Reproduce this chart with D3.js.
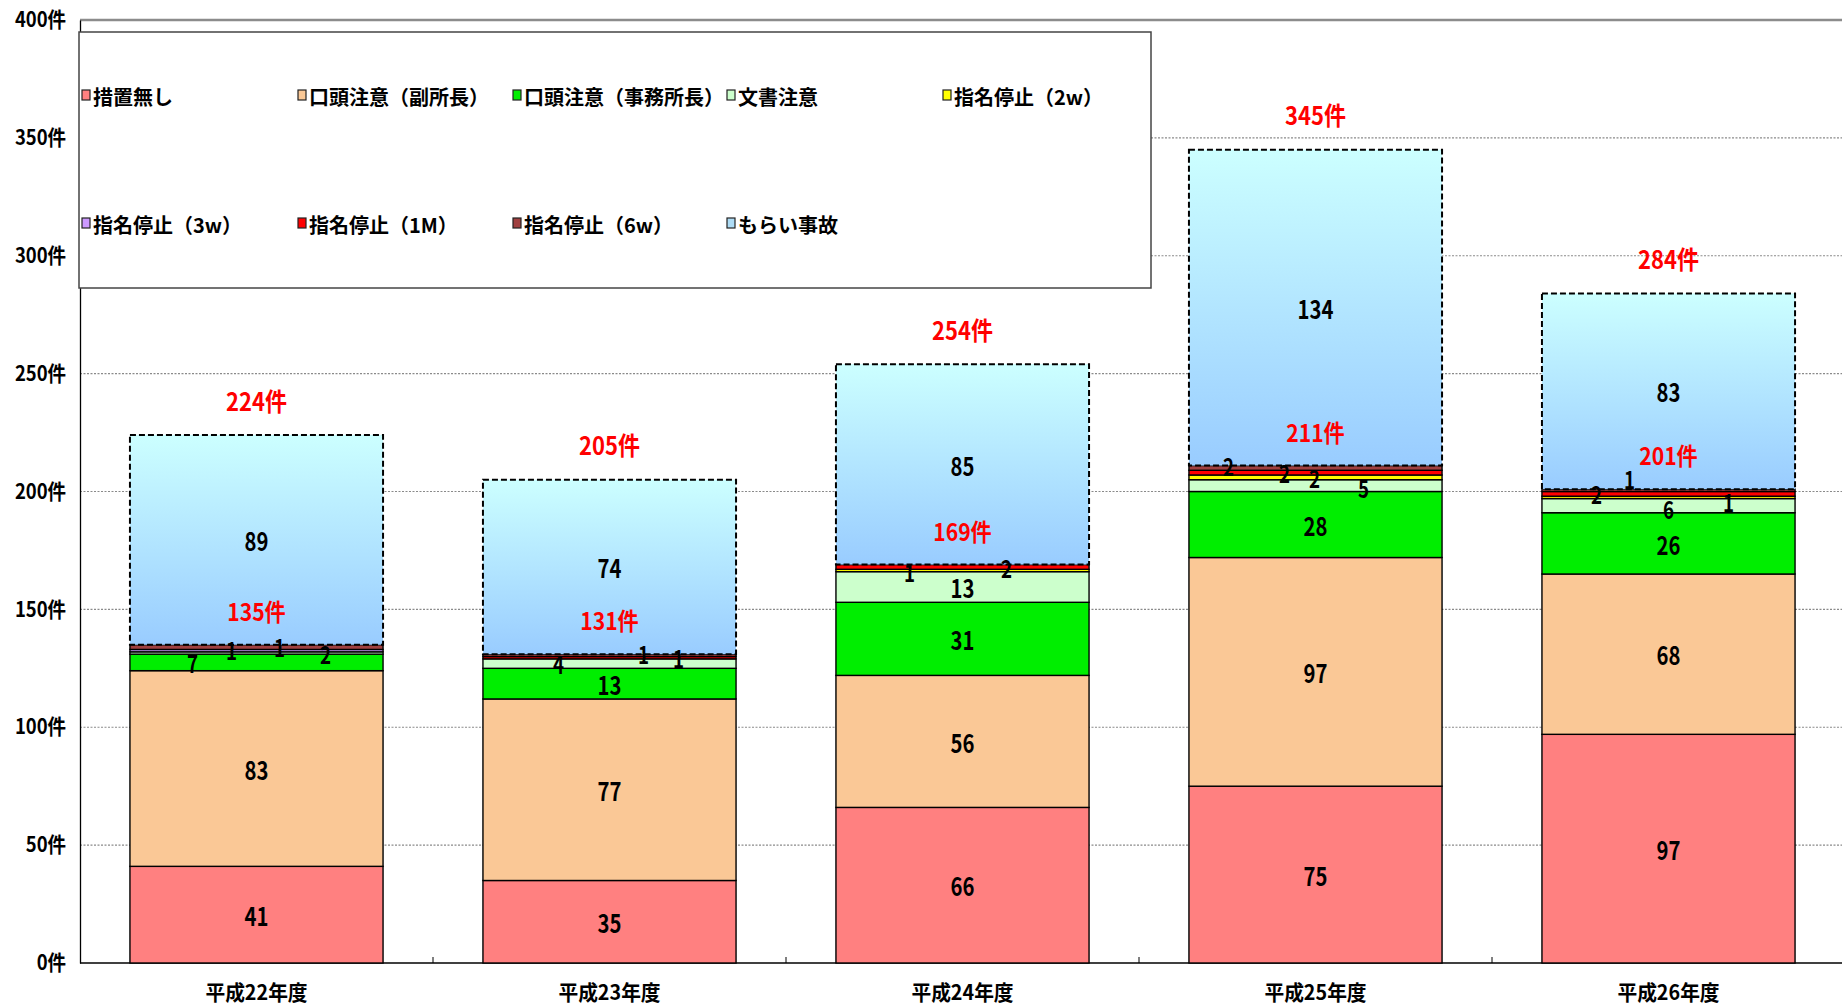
<!DOCTYPE html>
<html lang="ja">
<head>
<meta charset="utf-8">
<script src="https://cdn.jsdelivr.net/npm/d3@7"></script>
<style>
  html, body { margin: 0; padding: 0; background: #fff; }
  svg { display: block; }
  .narrow { transform-box: fill-box; transform-origin: center; }
</style>
</head>
<body>
<svg id="chart" width="1842" height="1008"></svg>
<script>
// Fiscal years on the x axis
const years = ['平成22年度', '平成23年度', '平成24年度', '平成25年度', '平成26年度'];

// Series names, in stacking order (bottom to top)
const seriesNames = [
  '措置無し', '口頭注意（副所長）', '口頭注意（事務所長）', '文書注意', '指名停止（2w）',
  '指名停止（3w）', '指名停止（1M）', '指名停止（6w）', 'もらい事故'
];

// Case counts per year for each series
const noAction    = [41, 35, 66, 75, 97];
const oralVice    = [83, 77, 56, 97, 68];
const oralChief   = [7, 13, 31, 28, 26];
const written     = [1, 4, 13, 5, 6];
const suspend2w   = [0, 0, 1, 2, 1];
const suspend3w   = [1, 0, 0, 0, 0];
const suspend1M   = [0, 1, 2, 2, 2];
const suspend6w   = [2, 1, 0, 2, 1];
const hitByOthers = [89, 74, 85, 134, 83];

// Y axis ticks
const yTicks = [0, 50, 100, 150, 200, 250, 300, 350, 400];
const yTickLabels = yTicks.map(v => v + '件');

const seriesValues = [noAction, oralVice, oralChief, written, suspend2w, suspend3w, suspend1M, suspend6w, hitByOthers];

// ---- styling ----
const colors = ['#FF8080', '#FAC896', '#00EE00', '#CCFFCC', '#FFFF00', '#CC99FF', '#FF0000', '#A04040', 'url(#gradHit)'];
const legendSwatch = ['#FF8080', '#FAC896', '#00EE00', '#CCFFCC', '#FFFF00', '#CC99FF', '#FF0000', '#A04040', '#AEDCF5'];
const FONT = '"Noto Sans CJK JP", sans-serif';

// Offsets (px) for labels on thin segments, keyed "year-series"
const labelShift = {
  '0-2': [-64, 0], '0-3': [-25, -4], '0-5': [23, -4], '0-7': [69, 6],
  '1-3': [-51, 0], '1-6': [34, -4], '1-7': [69, 2],
  '2-4': [-53, 1], '2-6': [44, 0],
  '3-3': [48, 2], '3-4': [-1, 0], '3-6': [-31, 0], '3-7': [-87, -3],
  '4-3': [0, 3], '4-4': [60, 4], '4-6': [-72, 0], '4-7': [-39, -12]
};

const svg = d3.select('#chart');
const margin = { left: 80, right: 1845, top: 20, bottom: 963 };

const x = d3.scaleBand().domain(years).range([margin.left, margin.right])
  .paddingInner(0.283).paddingOuter(0.1415);
const y = d3.scaleLinear().domain([0, 400]).range([margin.bottom, margin.top]);

// gradient for the もらい事故 segments
const defs = svg.append('defs');
const grad = defs.append('linearGradient').attr('id', 'gradHit')
  .attr('x1', 0).attr('y1', 0).attr('x2', 0).attr('y2', 1);
grad.append('stop').attr('offset', '0%').attr('stop-color', '#CCFFFF');
grad.append('stop').attr('offset', '100%').attr('stop-color', '#99CCFF');

// grid lines
svg.append('g').selectAll('line').data(yTicks.filter(v => v > 0 && v < 400)).join('line')
  .attr('x1', margin.left).attr('x2', 1842)
  .attr('y1', d => y(d)).attr('y2', d => y(d))
  .attr('stroke', '#8a8a8a').attr('stroke-width', 1.2).attr('stroke-dasharray', '2,1.5');
svg.append('line').attr('x1', margin.left).attr('x2', 1842)
  .attr('y1', y(400)).attr('y2', y(400))
  .attr('stroke', '#8c8c8c').attr('stroke-width', 2.5);

// y axis
const yAxis = d3.axisLeft(y).tickValues(yTicks).tickFormat((d, i) => yTickLabels[i]).tickSize(0).tickPadding(14);
const gy = svg.append('g').attr('transform', `translate(${margin.left},0)`).call(yAxis);
gy.select('.domain').attr('stroke', '#000').attr('stroke-width', 1.3);
gy.selectAll('text').attr('font-family', FONT).attr('font-weight', 'bold')
  .attr('font-size', 21).attr('fill', '#000')
  .attr('class', 'narrow')
  .style('transform-origin', 'right center').style('transform', 'scaleX(0.88)');

// x axis
const step = x.step();
const xAxis = d3.axisBottom(x).tickSize(0).tickPadding(22);
const gx = svg.append('g').attr('transform', `translate(0,${margin.bottom})`).call(xAxis);
gx.select('.domain').attr('stroke', '#000').attr('stroke-width', 1.3).attr('d', `M${margin.left},0H1842`);
gx.selectAll('text').attr('font-family', FONT).attr('font-weight', 'bold')
  .attr('font-size', 21).attr('fill', '#000')
  .attr('class', 'narrow').style('transform', 'scaleX(0.94)');
gx.selectAll('line.sep').data(years.slice(1)).join('line').attr('class', 'sep')
  .attr('x1', d => x(d) - (step - x.bandwidth()) / 2).attr('x2', d => x(d) - (step - x.bandwidth()) / 2)
  .attr('y1', 0).attr('y2', -6).attr('stroke', '#000').attr('stroke-width', 1);

// stacked bars
const rows = years.map((yr, i) => {
  const r = { year: yr };
  seriesNames.forEach((s, k) => { r[s] = seriesValues[k][i]; });
  return r;
});
const stacked = d3.stack().keys(seriesNames)(rows);

const barG = svg.append('g');
stacked.forEach((layer, k) => {
  const isHit = k === seriesNames.length - 1;
  barG.append('g').selectAll('rect').data(layer.filter(d => d[1] - d[0] > 0)).join('rect')
    .attr('x', d => x(d.data.year))
    .attr('width', x.bandwidth())
    .attr('y', d => y(d[1]))
    .attr('height', d => y(d[0]) - y(d[1]))
    .attr('fill', colors[k])
    .attr('stroke', '#000')
    .attr('stroke-width', isHit ? 2 : 1.4)
    .attr('stroke-dasharray', isHit ? '6,3' : null);
});

// value labels (thin segments get slightly smaller text)
const labelG = svg.append('g');
stacked.forEach((layer, k) => {
  layer.forEach((d, i) => {
    const v = d[1] - d[0];
    if (v <= 0) return;
    const shift = labelShift[i + '-' + k] || [0, 0];
    labelG.append('text')
      .attr('class', 'narrow').style('transform', 'scaleX(0.78)')
      .attr('x', x(d.data.year) + x.bandwidth() / 2 + shift[0])
      .attr('y', y((d[0] + d[1]) / 2) + shift[1])
      .attr('text-anchor', 'middle').attr('dominant-baseline', 'central')
      .attr('font-family', FONT).attr('font-weight', 'bold').attr('font-size', v < 10 ? 24 : 26)
      .attr('fill', '#000').text(v);
  });
});

// subtotal (excluding もらい事故) and overall totals in red
const hitLayer = stacked[stacked.length - 1];
hitLayer.forEach(d => {
  const cx = x(d.data.year) + x.bandwidth() / 2;
  labelG.append('text').attr('x', cx).attr('y', y(d[0]) - 34)
    .attr('class', 'narrow').style('transform', 'scaleX(0.88)')
    .attr('text-anchor', 'middle').attr('dominant-baseline', 'central')
    .attr('font-family', FONT).attr('font-weight', 'bold').attr('font-size', 24)
    .attr('fill', '#FF0000').text(d[0] + '件');
  labelG.append('text').attr('x', cx).attr('y', y(d[1]) - 35)
    .attr('class', 'narrow').style('transform', 'scaleX(0.88)')
    .attr('text-anchor', 'middle').attr('dominant-baseline', 'central')
    .attr('font-family', FONT).attr('font-weight', 'bold').attr('font-size', 25)
    .attr('fill', '#FF0000').text(d[1] + '件');
});

// legend
const legend = svg.append('g');
legend.append('rect').attr('x', 79).attr('y', 32).attr('width', 1072).attr('height', 256)
  .attr('fill', '#fff').attr('stroke', '#444').attr('stroke-width', 1.5);
const colX = [86, 302, 517, 731, 947];
const rowY = [96, 224];
seriesNames.forEach((name, k) => {
  const cx = colX[k % 5], cy = rowY[Math.floor(k / 5)];
  legend.append('rect').attr('x', cx - 4).attr('y', cy - 6).attr('width', 8).attr('height', 10)
    .attr('fill', legendSwatch[k]).attr('stroke', '#222').attr('stroke-width', 1.2);
  legend.append('text').attr('x', cx + 7).attr('y', cy)
    .attr('dominant-baseline', 'central')
    .attr('font-family', FONT).attr('font-weight', 'bold').attr('font-size', 20)
    .attr('fill', '#000').text(name);
});
</script>
</body>
</html>
